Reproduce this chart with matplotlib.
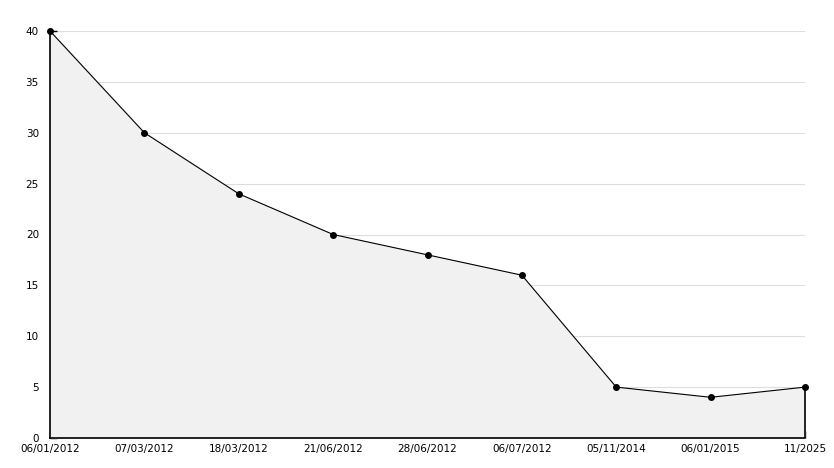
import numpy as np
import matplotlib
matplotlib.use("Agg")
import matplotlib.pyplot as plt
from matplotlib.ticker import MultipleLocator

# data
dates = ["06/01/2012", "07/03/2012", "18/03/2012", "21/06/2012", "28/06/2012",
         "06/07/2012", "05/11/2014", "06/01/2015", "11/2025"]
values = [40, 30, 24, 20, 18, 16, 5, 4, 5]

plt.rcParams["font.family"] = "DejaVu Sans"

fig = plt.figure(figsize=(8.34, 4.68), dpi=100)
ax = fig.add_axes([50 / 834, 1 - 438 / 468, 755 / 834, 407 / 468])

x = np.arange(len(values))
ax.fill_between(x, values, 0, color="#f1f1f1", zorder=1)
ax.plot(x, values, color="black", lw=0.8, marker="o", ms=4, zorder=3,
        clip_on=False)
# right edge of the filled area is closed with a line
ax.vlines(x[-1], 0, values[-1], color="black", lw=1.2, zorder=3, clip_on=False)

ax.set_xlim(0, len(values) - 1)
ax.set_ylim(0, 40)
ax.set_xticks(x)
ax.set_xticklabels(dates)
ax.yaxis.set_major_locator(MultipleLocator(5))
ax.yaxis.set_minor_locator(MultipleLocator(1))

ax.grid(axis="y", color="#dddddd", lw=0.8, zorder=0)
ax.set_axisbelow(True)

for s in ["top", "right"]:
    ax.spines[s].set_visible(False)
for s in ["left", "bottom"]:
    ax.spines[s].set_linewidth(1.2)

ax.tick_params(axis="both", which="both", direction="in", labelsize=7.5, width=1)
ax.tick_params(axis="y", which="major", length=5, pad=8)
ax.tick_params(axis="y", which="minor", length=4)
ax.tick_params(axis="x", which="major", length=5, pad=4)

fig.savefig("out.png", dpi=100)
